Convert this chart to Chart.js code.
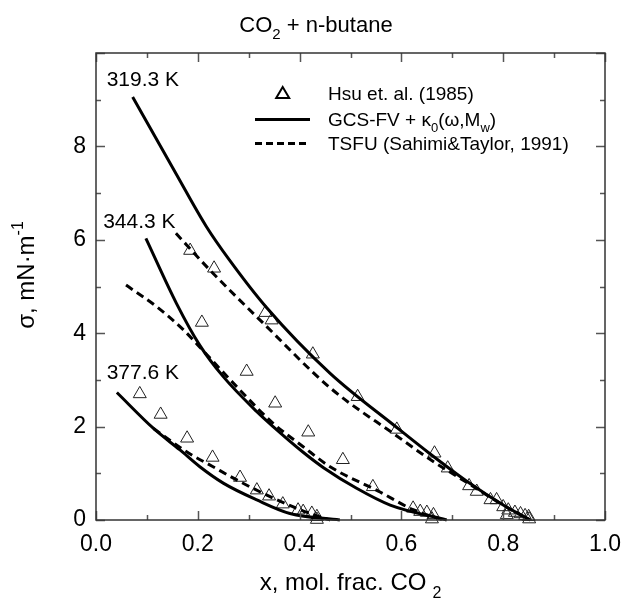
<!DOCTYPE html>
<html>
<head>
<meta charset="utf-8">
<script src="https://cdn.jsdelivr.net/npm/chart.js@4.4.0/dist/chart.umd.min.js"></script>
<style>
  html, body { margin: 0; padding: 0; background: #fff; }
  canvas { display: block; }
</style>
</head>
<body>
<canvas id="chart" width="625" height="601"></canvas>
<script>
const FONT = "'Liberation Sans', Arial, Helvetica, sans-serif";

// tick labels
const xTicks = [0, 0.2, 0.4, 0.6, 0.8, 1.0];
const yTicks = [0, 2, 4, 6, 8];

// Hsu et. al. (1985) measurements
const hsu319x = [0.185, 0.232, 0.333, 0.345, 0.426, 0.514, 0.591, 0.665, 0.691, 0.733, 0.748, 0.775, 0.787, 0.800, 0.807, 0.810, 0.823, 0.834, 0.843, 0.850, 0.851];
const hsu319y = [5.77, 5.39, 4.44, 4.28, 3.55, 2.64, 1.94, 1.43, 1.11, 0.73, 0.61, 0.43, 0.43, 0.28, 0.11, 0.21, 0.16, 0.13, 0.09, 0.07, 0.02];
const hsu344x = [0.208, 0.296, 0.352, 0.417, 0.485, 0.544, 0.623, 0.637, 0.650, 0.663, 0.660];
const hsu344y = [4.23, 3.18, 2.50, 1.88, 1.29, 0.71, 0.25, 0.18, 0.16, 0.11, 0.02];
const hsu377x = [0.086, 0.127, 0.179, 0.229, 0.283, 0.316, 0.340, 0.367, 0.397, 0.407, 0.424, 0.434, 0.434];
const hsu377y = [2.70, 2.26, 1.75, 1.34, 0.91, 0.64, 0.51, 0.34, 0.21, 0.18, 0.14, 0.07, 0.01];

// GCS-FV + kappa0 model (solid)
const gcs319x = [0.072, 0.157, 0.217, 0.262, 0.335, 0.460, 0.591, 0.656, 0.735, 0.800, 0.853];
const gcs319y = [9.06, 7.42, 6.28, 5.57, 4.55, 3.14, 1.98, 1.42, 0.78, 0.32, 0.0];
const gcs344x = [0.098, 0.158, 0.204, 0.250, 0.316, 0.348, 0.407, 0.447, 0.512, 0.578, 0.689];
const gcs344y = [6.03, 4.64, 3.74, 3.07, 2.32, 2.00, 1.45, 1.12, 0.68, 0.32, 0.0];
const gcs377x = [0.041, 0.113, 0.165, 0.204, 0.250, 0.316, 0.381, 0.479];
const gcs377y = [2.73, 1.96, 1.50, 1.14, 0.79, 0.43, 0.14, 0.0];

// TSFU (Sahimi & Taylor, 1991) (dashed)
const tsfu319x = [0.157, 0.224, 0.329, 0.460, 0.591, 0.656, 0.735, 0.800, 0.853];
const tsfu319y = [6.14, 5.35, 4.21, 2.83, 1.80, 1.30, 0.76, 0.32, 0.0];
const tsfu344x = [0.059, 0.119, 0.172, 0.204, 0.283, 0.348, 0.407, 0.460, 0.558, 0.623, 0.682];
const tsfu344y = [5.03, 4.57, 4.07, 3.70, 2.78, 2.07, 1.57, 1.14, 0.60, 0.22, 0.0];
const tsfu377x = [0.113, 0.178, 0.230, 0.283, 0.342, 0.394, 0.447, 0.460];
const tsfu377y = [1.96, 1.46, 1.14, 0.82, 0.50, 0.25, 0.04, 0.0];

const pts = (xs, ys) => xs.map((x, i) => ({ x: x, y: ys[i] }));

function lineSet(xs, ys, dashed) {
  return {
    data: pts(xs, ys),
    showLine: true,
    borderColor: '#000',
    borderWidth: 3,
    borderDash: dashed ? [8, 5] : [],
    pointRadius: 0,
    cubicInterpolationMode: 'monotone',
    fill: false
  };
}

function markSet(xs, ys) {
  return {
    data: pts(xs, ys),
    showLine: false,
    pointStyle: 'triangle',
    pointRadius: 7.5,
    borderColor: '#222',
    borderWidth: 1,
    backgroundColor: 'rgba(0,0,0,0)'
  };
}

function fnt(size) { return size + 'px ' + FONT; }

// text with sub / superscripts
function richText(ctx, parts, x, y, size, align) {
  const widths = parts.map(p => {
    ctx.font = fnt(p.s ? Math.round(size * 0.68) : size);
    return ctx.measureText(p.t).width + (p.gap || 0);
  });
  const total = widths.reduce((a, b) => a + b, 0);
  let cx = align === 'center' ? x - total / 2 : x;
  ctx.textAlign = 'left';
  ctx.textBaseline = 'alphabetic';
  parts.forEach((p, i) => {
    ctx.font = fnt(p.s ? Math.round(size * 0.68) : size);
    const dy = p.s === 'sub' ? size * 0.34 : p.s === 'sup' ? -size * 0.45 : 0;
    ctx.fillText(p.t, cx + (p.gap || 0), y + dy);
    cx += widths[i];
  });
}

const decor = {
  id: 'decor',
  afterDraw(chart) {
    const ctx = chart.ctx;
    const a = chart.chartArea;
    const xs = chart.scales.x, ys = chart.scales.y;
    ctx.save();

    // inward ticks on all sides
    ctx.strokeStyle = '#555';
    ctx.lineWidth = 1.5;
    ctx.beginPath();
    for (let i = 0; i <= 10; i++) {
      const px = Math.round(xs.getPixelForValue(i / 10)) + 0.5;
      const len = i % 2 === 0 ? 9 : 5;
      ctx.moveTo(px, a.bottom); ctx.lineTo(px, a.bottom - len);
      ctx.moveTo(px, a.top); ctx.lineTo(px, a.top + len);
    }
    for (let i = 0; i <= 10; i++) {
      const py = Math.round(ys.getPixelForValue(i)) + 0.5;
      const len = i % 2 === 0 ? 9 : 5;
      ctx.moveTo(a.left, py); ctx.lineTo(a.left + len, py);
      ctx.moveTo(a.right, py); ctx.lineTo(a.right - len, py);
    }
    ctx.stroke();

    // frame
    ctx.strokeStyle = '#333';
    ctx.lineWidth = 1.5;
    ctx.strokeRect(a.left, a.top, a.right - a.left, a.bottom - a.top);

    ctx.fillStyle = '#000';

    // title
    richText(ctx, [{ t: 'CO' }, { t: '2', s: 'sub' }, { t: ' + n-butane' }], 316, 32, 22, 'center');

    // x axis title
    richText(ctx, [{ t: 'x, mol. frac. CO' }, { t: '2', s: 'sub', gap: 6 }], (a.left + a.right) / 2, 590, 24, 'center');

    // y axis title
    ctx.save();
    ctx.translate(26, 275);
    ctx.rotate(-Math.PI / 2);
    richText(ctx, [{ t: 'σ, mN·m' }, { t: '-1', s: 'sup' }], 0, 8, 24, 'center');
    ctx.restore();

    // temperature labels
    ctx.font = fnt(21);
    ctx.textAlign = 'left';
    ctx.textBaseline = 'alphabetic';
    ctx.fillText('319.3 K', xs.getPixelForValue(0.021), ys.getPixelForValue(9.29));
    ctx.fillText('344.3 K', xs.getPixelForValue(0.014), ys.getPixelForValue(6.25));
    ctx.fillText('377.6 K', xs.getPixelForValue(0.021), ys.getPixelForValue(3.02));

    // legend
    const lx = 255, lx2 = 310, tx = 328;
    ctx.strokeStyle = '#000';
    ctx.lineWidth = 2;
    ctx.beginPath();
    ctx.moveTo(282.7, 87); ctx.lineTo(289.2, 98); ctx.lineTo(276.2, 98); ctx.closePath();
    ctx.stroke();
    ctx.lineWidth = 3;
    ctx.beginPath(); ctx.moveTo(lx, 119.5); ctx.lineTo(lx2, 119.5); ctx.stroke();
    ctx.setLineDash([7, 4]);
    ctx.beginPath(); ctx.moveTo(lx, 143.5); ctx.lineTo(lx2, 143.5); ctx.stroke();
    ctx.setLineDash([]);
    richText(ctx, [{ t: 'Hsu et. al. (1985)' }], tx, 100, 19, 'left');
    richText(ctx, [{ t: 'GCS-FV + κ' }, { t: '0', s: 'sub' }, { t: '(ω,M' }, { t: 'w', s: 'sub' }, { t: ')' }], tx, 126, 19, 'left');
    richText(ctx, [{ t: 'TSFU (Sahimi&Taylor, 1991)' }], tx, 150, 19, 'left');

    ctx.restore();
  }
};

const ctx = document.getElementById('chart').getContext('2d');

const chart = new Chart(ctx, {
  type: 'scatter',
  data: {
    datasets: [
      lineSet(gcs319x, gcs319y, false),
      lineSet(gcs344x, gcs344y, false),
      lineSet(gcs377x, gcs377y, false),
      lineSet(tsfu319x, tsfu319y, true),
      lineSet(tsfu344x, tsfu344y, true),
      lineSet(tsfu377x, tsfu377y, true),
      markSet(hsu319x, hsu319y),
      markSet(hsu344x, hsu344y),
      markSet(hsu377x, hsu377y)
    ]
  },
  options: {
    responsive: false,
    animation: false,
    clip: false,
    layout: { padding: { top: 53, right: 20, left: 0, bottom: 0 } },
    plugins: {
      legend: { display: false },
      title: { display: false },
      tooltip: { enabled: false }
    },
    scales: {
      x: {
        type: 'linear',
        min: 0,
        max: 1,
        afterBuildTicks: s => { s.ticks = xTicks.map(v => ({ value: v })); },
        afterFit: s => { s.height = 81; s.paddingLeft = 0; s.paddingRight = 0; },
        grid: { display: false, drawTicks: false },
        border: { display: false },
        ticks: {
          callback: v => Number(v).toFixed(1),
          font: { family: FONT, size: 23 },
          color: '#000',
          padding: 11,
          maxRotation: 0,
          autoSkip: false
        }
      },
      y: {
        type: 'linear',
        min: 0,
        max: 10,
        afterBuildTicks: s => { s.ticks = yTicks.map(v => ({ value: v })); },
        afterFit: s => { s.width = 96; s.paddingTop = 0; s.paddingBottom = 0; },
        grid: { display: false, drawTicks: false },
        border: { display: false },
        ticks: {
          callback: v => String(v),
          font: { family: FONT, size: 23 },
          color: '#000',
          padding: 10,
          autoSkip: false
        }
      }
    }
  },
  plugins: [decor]
});
</script>
</body>
</html>
